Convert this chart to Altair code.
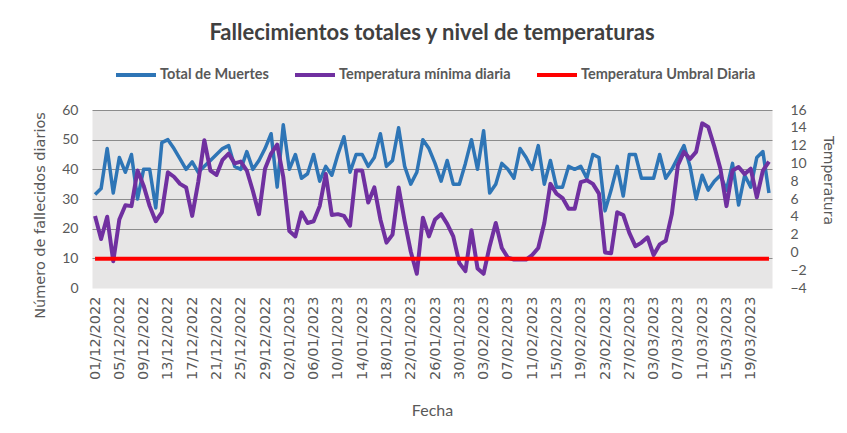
import altair as alt
import pandas as pd

# Categories: one per day, 01/12/2022 .. 22/03/2023
fechas = pd.date_range("2022-12-01", periods=112, freq="D").strftime("%d/%m/%Y").tolist()
tick_fechas = fechas[::4]

series = ["Total de Muertes", "Temperatura mínima diaria", "Temperatura Umbral Diaria"]
colores = ["#2E75B6", "#7030A0", "#FF0000"]

muertes = [
    31.5, 33.5, 47, 32, 44, 39, 45, 30, 40, 40,
    27, 49, 50, 47, 43.5, 40, 42.5, 39, 41, 43,
    45, 47, 48, 41, 40, 46, 40, 43, 47, 52,
    34, 55, 40, 45, 37, 38.5, 45, 36, 41, 38,
    45, 51, 39, 45, 45, 41, 44, 52, 41, 43,
    54, 41, 35, 39, 50, 47, 42, 36, 43, 35,
    35, 42, 50, 40, 53, 32, 35, 42, 40, 37,
    47, 44, 40, 48, 35, 43, 34, 34, 41, 40,
    41, 37, 45, 44, 26, 33, 41, 31, 45, 45,
    37, 37, 37, 45, 37, 40, 44, 48, 41, 30,
    38, 33, 36, 38, 33, 42, 28, 38, 34, 44,
    46, 32,
]

temp_min = [
    4.1, 1.5, 4.0, -1.0, 3.7, 5.3, 5.2, 9.2, 7.5, 5.2,
    3.5, 4.5, 9.0, 8.5, 7.7, 7.3, 4.1, 7.9, 12.6, 9.2,
    8.7, 10.4, 11.1, 10.0, 10.2, 9.2, 6.9, 4.3, 9.4, 11.1,
    12.1, 8.5, 2.4, 1.8, 4.5, 3.3, 3.5, 5.2, 8.8, 4.2,
    4.3, 4.1, 3.0, 9.2, 9.2, 5.6, 7.3, 3.7, 1.1, 2.0,
    7.3, 3.5, 0.1, -2.4, 3.9, 1.8, 3.7, 4.3, 3.2, 1.8,
    -1.2, -2.1, 2.5, -1.8, -2.4, 0.7, 3.3, 0.5, -0.6, -0.8,
    -0.8, -0.8, -0.3, 0.5, 3.3, 7.7, 6.6, 6.1, 4.9, 4.9,
    7.9, 8.1, 7.7, 6.6, 0.0, -0.1, 4.5, 4.2, 2.2, 0.7,
    1.1, 1.7, -0.3, 0.9, 1.3, 4.3, 9.8, 11.3, 10.5, 11.3,
    14.5, 14.1, 11.9, 9.4, 5.2, 9.2, 9.6, 8.8, 9.4, 6.2,
    9.2, 10.2,
]

umbral = [-0.7] * len(fechas)

df_m = pd.DataFrame({"fecha": fechas, "valor": muertes, "serie": series[0]})
df_t = pd.DataFrame({
    "fecha": fechas + fechas,
    "temp": temp_min + umbral,
    "serie": [series[1]] * len(fechas) + [series[2]] * len(fechas),
    "orden": [1] * len(fechas) + [2] * len(fechas),
})

narrow = "Lato"
wide = "DejaVu Sans"
gris = "#595959"

x_enc = alt.X(
    "fecha:O",
    sort=fechas,
    scale=alt.Scale(type="point", padding=0.5),
    axis=alt.Axis(
        values=tick_fechas, labelAngle=270, labelFont=wide, labelFontSize=14.5,
        labelColor=gris, labelPadding=8, ticks=False, domain=False,
        title="Fecha", titleFont=narrow, titleFontSize=16, titleColor=gris,
        titleFontWeight="normal", titleX=340, titleY=122, titleBaseline="middle",
    ),
)

color_enc = alt.Color(
    "serie:N",
    scale=alt.Scale(domain=series, range=colores),
    legend=alt.Legend(
        title=None, orient="none", direction="horizontal", legendX=22, legendY=-57,
        symbolType="stroke", symbolSize=1600, symbolStrokeWidth=4,
        labelFont=narrow, labelFontSize=14.5, labelFontWeight="bold", labelColor=gris,
        labelOffset=2, columnPadding=18, labelLimit=300,
    ),
)

muertes_line = alt.Chart(df_m).mark_line(strokeWidth=3.5, strokeJoin="round").encode(
    x=x_enc,
    y=alt.Y(
        "valor:Q",
        scale=alt.Scale(domain=[0, 60], nice=False),
        axis=alt.Axis(
            orient="left", values=[0, 10, 20, 30, 40, 50, 60], grid=True,
            gridColor={"condition": {"test": "datum.value === 0", "value": "transparent"}, "value": "#8C8C8C"},
            gridWidth=1, ticks=False, domain=False,
            labelFont=narrow, labelFontSize=14, labelColor=gris, labelPadding=14,
            title="Número de fallecidos diarios", titleFont=wide, titleFontSize=14.5,
            titleColor=gris, titleFontWeight="normal", titleAngle=270,
            titleX=-52, titleY=105, titleBaseline="middle",
        ),
    ),
    color=color_enc,
)

temp_lines = alt.Chart(df_t).mark_line(strokeWidth=4, strokeJoin="round").encode(
    x=x_enc,
    y=alt.Y(
        "temp:Q",
        scale=alt.Scale(domain=[-4, 16], nice=False),
        axis=alt.Axis(
            orient="right", values=list(range(-4, 17, 2)), grid=False,
            ticks=False, domain=False,
            labelFont=narrow, labelFontSize=14, labelColor=gris, labelPadding=18,
            title="Temperatura", titleFont=wide, titleFontSize=14,
            titleColor=gris, titleFontWeight="normal", titleAngle=90,
            titleX=55, titleY=70, titleBaseline="middle",
        ),
    ),
    color=color_enc,
    detail="serie:N",
    order="orden:Q",
)

chart = alt.layer(muertes_line, temp_lines).resolve_scale(y="independent").properties(
    width=680,
    height=178,
    title=alt.TitleParams(
        "Fallecimientos totales y nivel de temperaturas",
        font=narrow, fontSize=22, fontWeight="bold", color="#404040",
        anchor="middle", offset=8,
    ),
    autosize=alt.AutoSizeParams(type="none"),
    padding={"left": 84, "top": 102, "right": 67, "bottom": 130},
    background="white",
).configure_view(fill="#E7E6E6", stroke="transparent")

chart.save("out.html", embed_options={"renderer": "svg", "actions": False})
